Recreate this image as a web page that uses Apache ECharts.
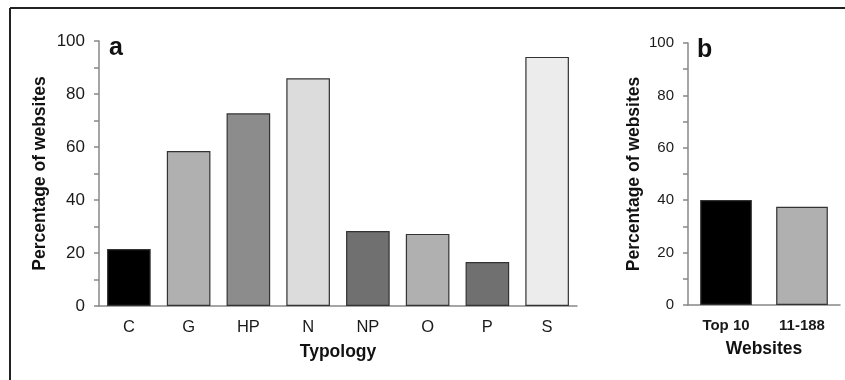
<!DOCTYPE html>
<html><head><meta charset="utf-8">
<script src="https://cdn.jsdelivr.net/npm/echarts@6/dist/echarts.min.js"></script>
<style>html,body{margin:0;padding:0;background:#fff}#c{width:845px;height:380px}</style>
</head><body><div id="c"></div>
<script>
const typologyCats = ['C','G','HP','N','NP','O','P','S'];
const typologyVals = [21.5, 58.5, 72.7, 85.9, 28.3, 27.2, 16.6, 94.0];
const typologyColors = ['#000000','#b0b0b0','#8c8c8c','#dcdcdc','#707070','#b0b0b0','#707070','#ececec'];
const websiteCats = ['Top 10','11-188'];
const websiteVals = [40.1, 37.5];
const websiteColors = ['#000000','#b0b0b0'];
const yTicks = [0,20,40,60,80,100];

const F = '"Liberation Sans", Arial, sans-serif';
const chart = echarts.init(document.getElementById('c'), null, {renderer:'canvas'});
function yAxis(idx, gap, fs){
  return {
    type:'value', gridIndex: idx, min:0, max:100, interval:10,
    name:'Percentage of websites', nameLocation:'middle', nameGap:gap, nameMoveOverlap:false,
    nameTextStyle:{fontFamily:F, fontSize:17.5, fontWeight:'bold', color:'#111'},
    axisLine:{show:true, lineStyle:{color:'#888', width:1.5}},
    axisTick:{show:true, length:5, lineStyle:{color:'#888', width:1.5}},
    splitLine:{show:false},
    axisLabel:{fontFamily:F, fontSize:fs, color:'#1a1a1a', margin:14,
      formatter: v => yTicks.indexOf(v) >= 0 ? String(v) : ''}
  };
}
chart.setOption({
  animation:false,
  grid:[
    {left:99, right:268, top:41, bottom:74},
    {left:688, right:5, top:43, bottom:75}
  ],
  xAxis:[
    {type:'category', gridIndex:0, data:typologyCats,
     name:'Typology', nameLocation:'middle', nameGap:37, nameMoveOverlap:false,
     nameTextStyle:{fontFamily:F, fontSize:17.5, fontWeight:'bold', color:'#111', verticalAlign:'top'},
     axisLine:{lineStyle:{color:'#888', width:1.5}}, axisTick:{show:false},
     axisLabel:{fontFamily:F, fontSize:16.5, color:'#1a1a1a', margin:13}},
    {type:'category', gridIndex:1, data:websiteCats,
     name:'Websites', nameLocation:'middle', nameGap:35, nameMoveOverlap:false,
     nameTextStyle:{fontFamily:F, fontSize:17.5, fontWeight:'bold', color:'#111', verticalAlign:'top'},
     axisLine:{lineStyle:{color:'#888', width:1.5}}, axisTick:{show:false},
     axisLabel:{fontFamily:F, fontSize:15, fontWeight:'bold', color:'#1a1a1a', margin:13}}
  ],
  yAxis:[ yAxis(0, 50, 17), yAxis(1, 45, 15) ],
  series:[
    {type:'bar', xAxisIndex:0, yAxisIndex:0, barWidth:'73%',
     data: typologyVals.map((v,i)=>({value:v, itemStyle:{color:typologyColors[i]}})),
     itemStyle:{borderColor:'#333', borderWidth:1.2}},
    {type:'bar', xAxisIndex:1, yAxisIndex:1, barWidth:'68%',
     data: websiteVals.map((v,i)=>({value:v, itemStyle:{color:websiteColors[i]}})),
     itemStyle:{borderColor:'#333', borderWidth:1.2}}
  ],
  graphic:[
    {type:'line', shape:{x1:10, y1:8, x2:845, y2:8}, style:{stroke:'#222', lineWidth:2}},
    {type:'line', shape:{x1:10, y1:8, x2:10, y2:380}, style:{stroke:'#222', lineWidth:2}},
    {type:'text', left:109, top:36, style:{text:'a', font:'bold 25px '+F, fill:'#111'}},
    {type:'text', left:697, top:38, style:{text:'b', font:'bold 25px '+F, fill:'#111'}}
  ]
});
</script></body></html>
